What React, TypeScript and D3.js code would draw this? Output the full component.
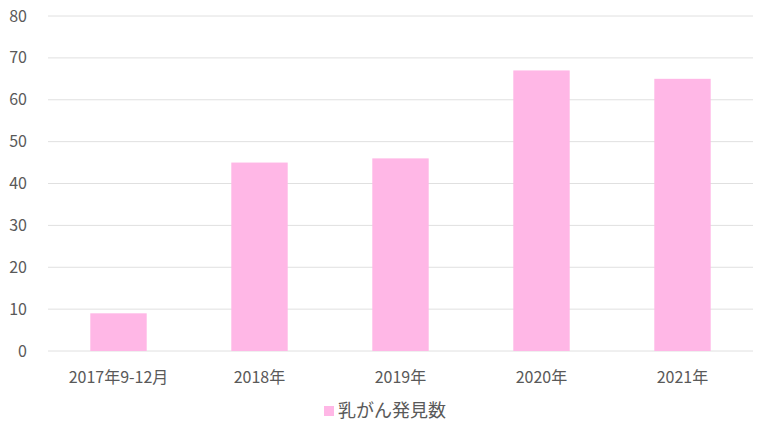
import React from "react";
import * as d3 from "d3";

const categories = ["2017年9-12月", "2018年", "2019年", "2020年", "2021年"];
const values = [9, 45, 46, 67, 65];
const yTicks = [0, 10, 20, 30, 40, 50, 60, 70, 80];
const seriesName = "乳がん発見数";

const W = 768;
const H = 437;
const left = 48;
const right = 753;
const top = 16;
const bottom = 351;
const font = "'Noto Sans CJK JP', 'Noto Sans', sans-serif";
const textColor = "#595959";
const barColor = "#FFB7E6";

export default function App() {
  const x = d3.scaleBand<string>().domain(categories).range([left, right]).paddingInner(0.6).paddingOuter(0.3);
  const y = d3.scaleLinear().domain([0, 80]).range([bottom, top]);
  return (
    <svg width={W} height={H} style={{ position: "absolute", left: 0, top: 0 }}>
      <rect width={W} height={H} fill="#fff" />
      {yTicks.map((t) => (
        <g key={t}>
          <line x1={left} x2={right} y1={y(t)} y2={y(t)} stroke="#E0E0E0" strokeWidth={1} />
          <text x={27} y={y(t)} dy="0.35em" textAnchor="end" fontFamily={font} fontSize={16} fill={textColor}>
            {t}
          </text>
        </g>
      ))}
      {categories.map((c, i) => (
        <g key={c}>
          <rect x={x(c)} y={y(values[i])} width={x.bandwidth()} height={bottom - y(values[i])} fill={barColor} />
          <text x={(x(c) as number) + x.bandwidth() / 2} y={377} dy="0.35em" textAnchor="middle" fontFamily={font} fontSize={16} fill={textColor}>
            {c}
          </text>
        </g>
      ))}
      <rect x={324} y={406} width={10} height={10} fill={barColor} />
      <text x={338} y={411} dy="0.35em" fontFamily={font} fontSize={18} fill={textColor}>
        {seriesName}
      </text>
    </svg>
  );
}
